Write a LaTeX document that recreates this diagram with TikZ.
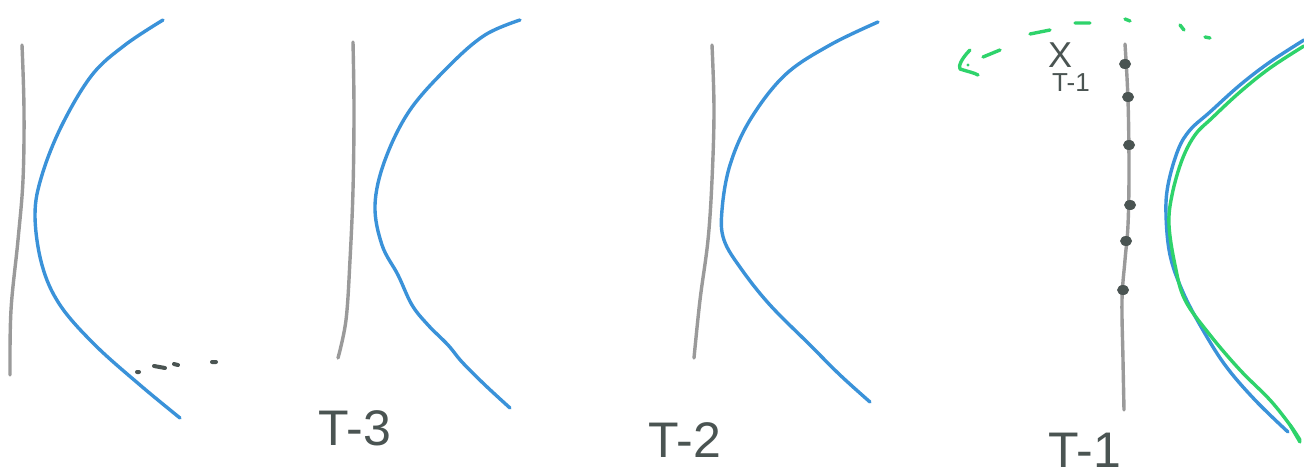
\documentclass[tikz,border=0pt]{standalone}
\usepackage{fontspec}
\setmainfont{Liberation Sans}
\begin{document}
\begin{tikzpicture}[x=1pt,y=-1pt,
  wall/.style={draw=wallgray,line width=3.4pt,line cap=round,line join=round},
  wave/.style={draw=waveblue,line width=3.4pt,line cap=round,line join=round},
  gwave/.style={draw=wavegreen,line width=3.4pt,line cap=round,line join=round},
  lbl/.style={text=ink,inner sep=0pt,font=\fontsize{50}{50}\selectfont},
  dotmark/.style={ellipse,fill=ink,inner sep=0pt,minimum width=12pt,minimum height=10pt}]
\usetikzlibrary{shapes.geometric}
\definecolor{wallgray}{HTML}{9A9A9A}
\definecolor{waveblue}{HTML}{3A92D9}
\definecolor{wavegreen}{HTML}{2ED36B}
\definecolor{ink}{HTML}{4A5452}
\useasboundingbox[fill=white] (0,0) rectangle (1304,476);
% panel 1
\draw[wall] plot[smooth,tension=0.6] coordinates {(22,45) (24,110) (23,180) (18,240) (11,310) (10,375)};
\draw[wave] plot[smooth,tension=0.6] coordinates {(163,20) (125,45) (92,75) (62,125) (42,175) (35,215) (42,265) (60,305) (95,345) (140,385) (180,418)};
\draw[ink,line width=4pt,line cap=round] (137,372) -- (139,372) (154,366) -- (165,368) (174,364) -- (178,365) (212,362) -- (216,362);
% panel 2
\draw[wall] plot[smooth,tension=0.6] coordinates {(353,42) (354,110) (353,190) (350,260) (346,320) (338,358)};
\draw[wave] plot[smooth,tension=0.6] coordinates {(520,20) (485,35) (450,65) (410,110) (385,160) (375,205) (382,245) (398,275) (412,305) (428,325) (448,345) (462,362) (485,385) (510,408)};
\node[lbl] (t3) at (355,428) {T-3};
% panel 3
\draw[wall] plot[smooth,tension=0.6] coordinates {(712,45) (714,110) (712,180) (708,240) (700,300) (694,358)};
\draw[wave] plot[smooth,tension=0.6] coordinates {(878,22) (830,45) (785,75) (750,120) (730,165) (722,210) (724,240) (742,270) (770,305) (810,345) (840,375) (870,402)};
\node[lbl] (t2) at (685,440) {T-2};
% panel 4
\draw[wall] plot[smooth,tension=0.6] coordinates {(1125,44) (1128,100) (1129,170) (1128,225) (1125,260) (1122,300) (1123,360) (1124,410)};
\node[dotmark] (d1) at (1125,64) {};
\node[dotmark] (d2) at (1128,97) {};
\node[dotmark] (d3) at (1129,145) {};
\node[dotmark] (d4) at (1130,205) {};
\node[dotmark] (d5) at (1126,241) {};
\node[dotmark] (d6) at (1123,290) {};
\node[text=ink,inner sep=0pt,font=\fontsize{36}{36}\selectfont] (x) at (1060,55) {X};
\node[text=ink,inner sep=0pt,font=\fontsize{26}{26}\selectfont] (tx) at (1071,83) {T-1};
\draw[wave] plot[smooth,tension=0.6] coordinates {(1304,40) (1270,62) (1240,85) (1210,112) (1190,130) (1178,150) (1168,185) (1166,215) (1170,255) (1182,290) (1200,325) (1225,365) (1255,400) (1288,432)};
\draw[gwave] plot[smooth,tension=0.6] coordinates {(1304,46) (1270,68) (1240,92) (1212,118) (1195,135) (1182,160) (1172,195) (1169,225) (1175,265) (1185,300) (1210,335) (1240,370) (1270,400) (1290,425) (1300,440)};
\draw[gwave] (1290,425) -- (1300,442);
\node[lbl] (t1) at (1085,450) {T-1};
% green dashed arrow
\draw[wavegreen,line width=3.4pt,line cap=round] (1210,38) -- (1205,37) (1180,25) -- (1184,30) (1125,19) -- (1130,21) (1075,23) -- (1090,23) (1030,34) -- (1050,30) (983,57) -- (1000,50);
\draw[wavegreen,line width=3.4pt,line cap=round,line join=round] (970,50) .. controls (962,58) and (958,66) .. (960,69) .. controls (966,71) and (975,73) .. (978,75);
\fill[wavegreen] (968,65) circle (1.7pt);
\end{tikzpicture}
\end{document}
